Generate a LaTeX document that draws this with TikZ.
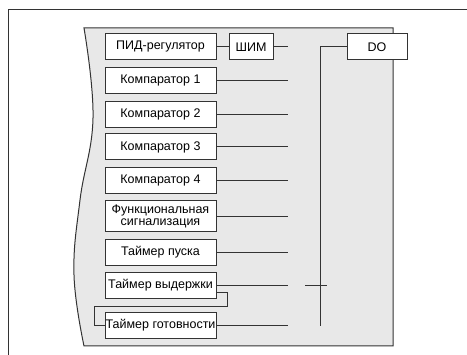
\documentclass[tikz,border=0pt]{standalone}
\usepackage{fontspec}
\setmainfont{Liberation Sans}
\definecolor{ln}{HTML}{333333}
\definecolor{pnl}{HTML}{E8E8E8}
\begin{document}
\begin{tikzpicture}[x=1pt,y=-1pt,
  wire/.style={draw=ln,line width=1pt},
  blk/.style={draw=ln,line width=1pt,fill=white,minimum width=111pt,minimum height=26pt,inner sep=0pt,font=\fontsize{12.5}{12}\selectfont,align=center},
  panelshape/.style={draw=ln,line width=1pt,fill=pnl}]
\useasboundingbox (0,0) rectangle (467,355);
\fill[white] (0,0) rectangle (467,355);
\draw[wire] (467,10) -- (8,10) -- (8,355);
\draw[panelshape] plot[smooth,tension=0.7] coordinates {(84,346) (74,275) (80,200) (93,118) (84,28)} -- (393,28) -- (393,346) -- cycle;
\node[blk] (pid) at (160.5,47) {ПИД-регулятор};
\node[blk,minimum width=44pt] (shim) at (251,47) {ШИМ};
\node[blk,minimum width=60pt] (do) at (377,47) {DO};
\node[blk] (k1) at (160.5,81) {Компаратор 1};
\node[blk] (k2) at (160.5,114.5) {Компаратор 2};
\node[blk] (k3) at (160.5,147) {Компаратор 3};
\node[blk] (k4) at (160.5,180.5) {Компаратор 4};
\node[blk,minimum height=31pt] (fs) at (160.5,216.5) {Функциональная\\сигнализация};
\node[blk] (tp) at (160.5,252.5) {Таймер пуска};
\node[blk] (tv) at (160.5,285.5) {Таймер выдержки};
\node[blk] (tg) at (160.5,325.5) {Таймер готовности};
\coordinate (e0) at (288,47);
\coordinate (bt) at (320,326);
\coordinate (t1) at (305,286);
\coordinate (t2) at (327,286);
\draw[wire] (pid) -- (shim);
\draw[wire] (shim) -- (e0);
\foreach \n in {k1,k2,k3,k4,fs,tp,tv,tg}{\draw[wire] (\n) -- (\n -| e0);}
\draw[wire] (do.west) -| (bt);
\draw[wire] (t1) -- (t2);
\draw[wire] ([yshift=-7.5pt]tv.east) -- ++(11,0) -- ++(0,14) -- ++(-133,0) |- (tg.west);
\end{tikzpicture}
\end{document}
